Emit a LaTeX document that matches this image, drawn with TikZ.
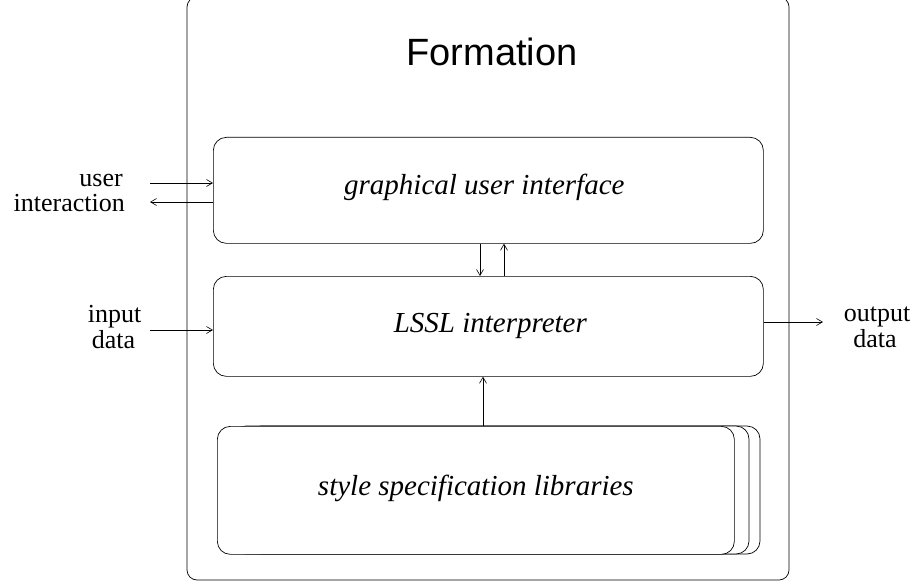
\documentclass[tikz,border=0pt]{standalone}
\usepackage{fontspec}
\setmainfont{Liberation Serif}
\setsansfont{Liberation Sans}
\usetikzlibrary{arrows.meta}
\tikzset{
  frame/.style={draw, line width=0.7pt, rounded corners=10pt},
  unit/.style={draw, line width=0.7pt, rounded corners=13pt},
  label/.style={font=\fontsize{26}{28}\selectfont, anchor=base, inner sep=0pt},
  title/.style={font=\fontsize{29}{31}\selectfont\itshape},
  flow/.style={line width=0.6pt, -{Straight Barb[length=6pt,width=7pt]}},
}
\begin{document}
\begin{tikzpicture}[x=1pt,y=-1pt]
\useasboundingbox (0,0) rectangle (915,583);
% outer frame
\draw[frame] (187,-3) rectangle (789,580);
\node[font=\sffamily\fontsize{38}{40}\selectfont] (formation) at (492,52) {Formation};
% library stack (back to front)
\draw[unit] (248,426) rectangle (760,554);
\draw[unit,fill=white] (233,426) rectangle (749,554);
\node[unit,fill=white,minimum width=517pt,minimum height=128pt,anchor=north west] (lib) at (217,426) {};
\node[title] (libtext) at ([yshift=2pt]lib.center) {style specification libraries};
% main units
\node[unit,minimum width=550pt,minimum height=106pt,anchor=north west] (gui) at (213,137) {};
\node[title] (guitext) at ([xshift=-4pt,yshift=3pt]gui.center) {graphical user interface};
\node[unit,minimum width=550pt,minimum height=100pt,anchor=north west] (lssl) at (213,276) {};
\node[title] (lssltext) at ([xshift=2pt]lssl.center) {LSSL interpreter};
% side labels
\node[label,anchor=base east] (user) at (123,186) {user};
\node[label,anchor=base east] (interaction) at (125,211) {interaction};
\node[label] (input) at (114.5,322) {input};
\node[label] (indata) at (113.5,348) {data};
\node[label] (output) at (877,321) {output};
\node[label] (outdata) at (875,347) {data};
% connectors
\coordinate (uin) at (150,183);
\coordinate (uout) at (150,202);
\coordinate (din) at (150,330);
\coordinate (dout) at (823,322);
\draw[flow] (uin) -- (uin -| gui.west);
\draw[flow] (uout -| gui.west) -- (uout);
\draw[flow] (din) -- (din -| lssl.west);
\draw[flow] (dout -| lssl.east) -- (dout);
\draw[flow] (gui.south -| 480,0) -- (lssl.north -| 480,0);
\draw[flow] (lssl.north -| 504,0) -- (gui.south -| 504,0);
\draw[flow] (lib.north -| 483,0) -- (lssl.south -| 483,0);
\end{tikzpicture}
\end{document}
